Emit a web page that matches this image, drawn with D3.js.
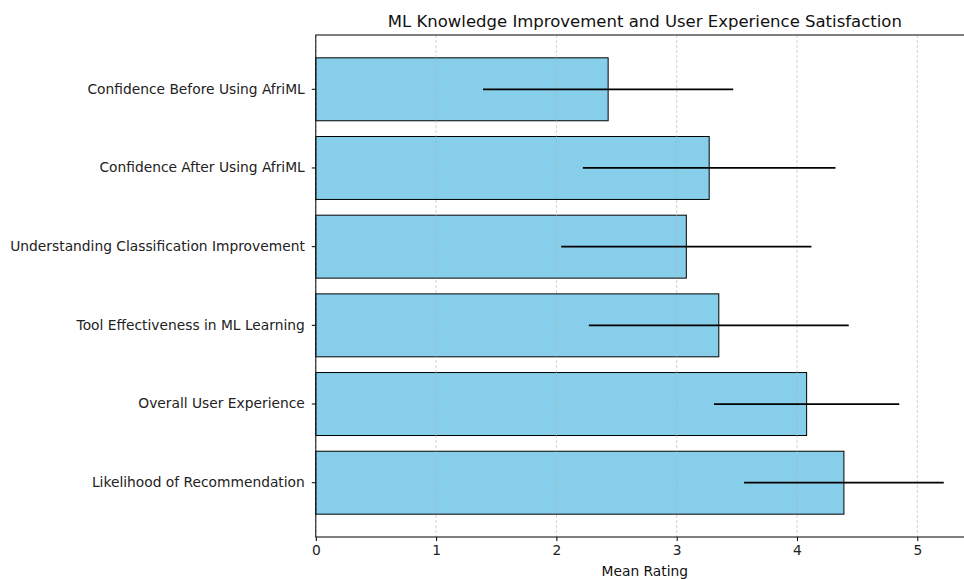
<!DOCTYPE html>
<html lang="en">
<head>
    <meta charset="UTF-8">
    <title>ML Knowledge Improvement and User Experience Satisfaction</title>
    <script src="https://d3js.org/d3.v7.min.js"></script>
    <style>
        body { margin: 0; background: #fff; }
        svg { display: block; }
        text { font-family: "DejaVu Sans", sans-serif; }
        .tick text { font-size: 13.8px; fill: #222; font-family: "DejaVu Sans", sans-serif; }
        .title { font-size: 16.5px; fill: #111; }
        .axis-label { font-size: 13.8px; fill: #111; }
    </style>
</head>
<body>
    <svg width="964" height="579"></svg>
    <script>
        const categories = [
            "Confidence Before Using AfriML",
            "Confidence After Using AfriML",
            "Understanding Classification Improvement",
            "Tool Effectiveness in ML Learning",
            "Overall User Experience",
            "Likelihood of Recommendation"
        ];
        const means = [2.43, 3.27, 3.08, 3.35, 4.08, 4.39];
        const stdDevs = [1.04, 1.05, 1.04, 1.08, 0.77, 0.83];
        const xTicks = [0, 1, 2, 3, 4, 5];

        const data = categories.map((c, i) => ({ name: c, mean: means[i], sd: stdDevs[i] }));

        const plotLeft = 315.8, plotTop = 35, plotBottom = 537;
        const xMax = 5.47;
        const svg = d3.select("svg");

        const x = d3.scaleLinear()
            .domain([0, xMax])
            .range([plotLeft, plotLeft + xMax * 120.3]);
        const y = d3.scaleBand()
            .domain(categories)
            .range([plotTop, plotBottom])
            .paddingInner(0.2)
            .paddingOuter(0.29);

        // bars
        svg.selectAll(".bar")
            .data(data)
            .enter()
            .append("rect")
            .attr("class", "bar")
            .attr("x", x(0))
            .attr("y", d => y(d.name))
            .attr("width", d => x(d.mean) - x(0))
            .attr("height", y.bandwidth())
            .attr("fill", "#87CEEB")
            .attr("stroke", "#000")
            .attr("stroke-width", 1);

        // grid (on top of bars)
        svg.append("g")
            .selectAll("line")
            .data(xTicks)
            .enter()
            .append("line")
            .attr("x1", d => x(d))
            .attr("x2", d => x(d))
            .attr("y1", plotTop)
            .attr("y2", plotBottom)
            .attr("stroke", "#b0b0b0")
            .attr("stroke-width", 0.8)
            .attr("stroke-dasharray", "3,2")
            .attr("opacity", 0.7);

        // error bars
        svg.selectAll(".err")
            .data(data)
            .enter()
            .append("line")
            .attr("class", "err")
            .attr("x1", d => x(d.mean - d.sd))
            .attr("x2", d => x(d.mean + d.sd))
            .attr("y1", d => y(d.name) + y.bandwidth() / 2)
            .attr("y2", d => y(d.name) + y.bandwidth() / 2)
            .attr("stroke", "#000")
            .attr("stroke-width", 1.8);

        // frame
        svg.append("rect")
            .attr("x", x(0))
            .attr("y", plotTop)
            .attr("width", x(xMax) - x(0))
            .attr("height", plotBottom - plotTop)
            .attr("fill", "none")
            .attr("stroke", "#000")
            .attr("stroke-width", 1);

        // axes
        const xAxis = svg.append("g")
            .attr("transform", `translate(0,${plotBottom})`)
            .call(d3.axisBottom(x).tickValues(xTicks).tickFormat(d3.format("d")).tickSize(4).tickPadding(4));
        xAxis.select(".domain").remove();
        xAxis.selectAll(".tick line").attr("stroke", "#000");

        const yAxis = svg.append("g")
            .attr("transform", `translate(${x(0)},0)`)
            .call(d3.axisLeft(y).tickSize(4).tickPadding(7));
        yAxis.select(".domain").remove();
        yAxis.selectAll(".tick line").attr("stroke", "#000");

        svg.append("text")
            .attr("class", "title")
            .attr("x", (x(0) + x(xMax)) / 2)
            .attr("y", 27)
            .attr("text-anchor", "middle")
            .text("ML Knowledge Improvement and User Experience Satisfaction");

        svg.append("text")
            .attr("class", "axis-label")
            .attr("x", (x(0) + x(xMax)) / 2)
            .attr("y", 576)
            .attr("text-anchor", "middle")
            .text("Mean Rating");
    </script>
</body>
</html>
